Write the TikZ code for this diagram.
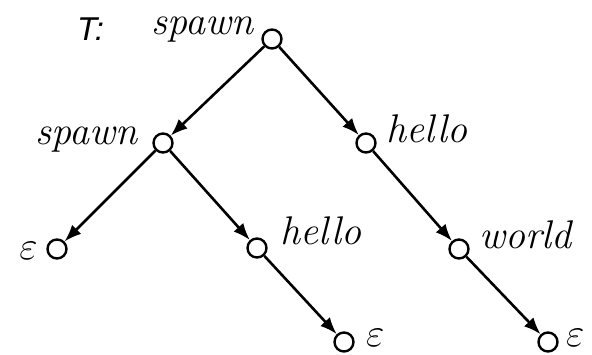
\RequirePackage{fix-cm}
\documentclass[tikz,border=0pt]{standalone}
\usepackage{fontspec}
\newfontfamily\lsans{Liberation Sans}[ItalicFont={Liberation Sans Italic}]
\usetikzlibrary{arrows.meta}
\tikzset{
  vert/.style={circle,draw,line width=2.4pt,minimum size=19pt,inner sep=0pt,fill=white},
  lbl/.style={inner sep=0pt,font=\fontsize{40}{40}\selectfont\itshape},
  edge/.style={line width=2.6pt,-{Latex[length=17pt,width=13pt]}}
}
\begin{document}
\begin{tikzpicture}[x=1pt,y=-1pt]
\useasboundingbox (0,0) rectangle (592,355);
\node[vert] (r) at (272,39) {};
\node[vert] (s2) at (163,143) {};
\node[vert] (h1) at (366,143) {};
\node[vert] (e1) at (57,249) {};
\node[vert] (h2) at (257,248) {};
\node[vert] (w) at (459,249) {};
\node[vert] (e2) at (344,342) {};
\node[vert] (e3) at (548,342) {};
\draw[edge] (r) -- (s2);
\draw[edge] (r) -- (h1);
\draw[edge] (s2) -- (e1);
\draw[edge] (s2) -- (h2);
\draw[edge] (h1) -- (w);
\draw[edge] (h2) -- (e2);
\draw[edge] (w) -- (e3);
\node[inner sep=0pt,anchor=base west,font=\lsans\itshape\fontsize{33}{33}\selectfont] (tl) at (77,41) {T:};
\node[lbl,anchor=base east] (ls1) at (254,35) {spawn};
\node[lbl,anchor=base east] (ls2) at (138,145) {spawn};
\node[lbl,anchor=base west] (lh1) at (386,143) {hello};
\node[lbl,anchor=base west] (lh2) at (280,245) {hello};
\node[lbl,anchor=base west] (lw) at (479,249) {world};
\node[lbl,anchor=base east] (le1) at (38,260) {$\varepsilon$};
\node[lbl,anchor=base west] (le2) at (366,347) {$\varepsilon$};
\node[lbl,anchor=base west] (le3) at (566,347) {$\varepsilon$};
\end{tikzpicture}
\end{document}
